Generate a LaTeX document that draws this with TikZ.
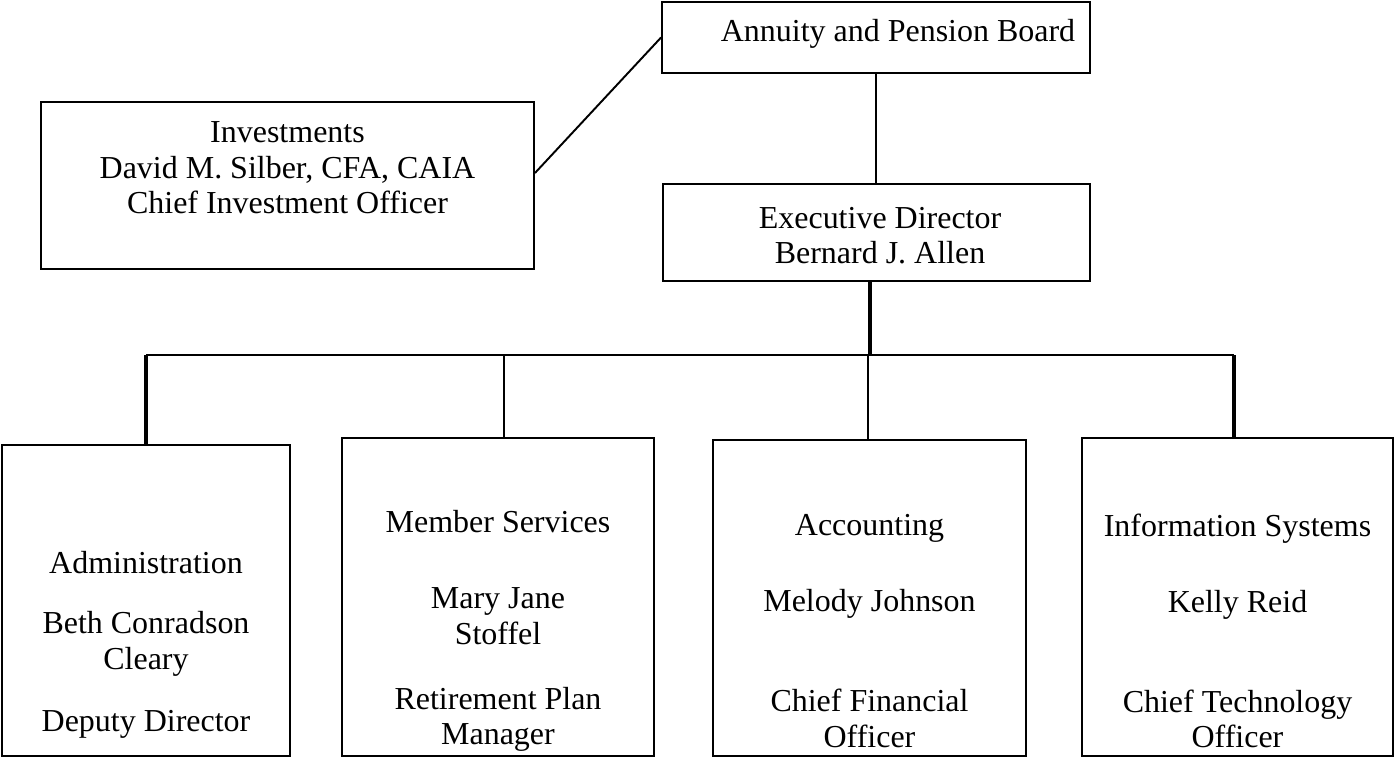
\documentclass[tikz,border=0pt]{standalone}
\usepackage{fontspec}
\setmainfont{Liberation Serif}
\tikzset{
  box/.style={draw, line width=1.1pt, inner sep=0pt},
  txt/.style={align=center, inner sep=0pt, font=\fontsize{18.2}{20.3}\selectfont},
  thin/.style={line width=1.1pt},
  bold/.style={line width=2pt},
}
\begin{document}
\begin{tikzpicture}[x=0.02cm,y=-0.02cm]
	\useasboundingbox (0,0) rectangle (1395,758);
	% top
	\node[box,minimum width=428*0.02cm,minimum height=71*0.02cm] (board) at (876,37.5) {};
	\node[txt] (boardtxt) at (898,34) {Annuity and Pension Board};
	\node[box,minimum width=427*0.02cm,minimum height=97*0.02cm] (exec) at (876.5,232.5) {};
	\node[txt] (exectxt) at (880,235.5) {Executive Director\\Bernard J. Allen};
	\node[box,minimum width=493*0.02cm,minimum height=167*0.02cm] (inv) at (287.5,185.5) {};
	\node[txt] (invtxt) at (287.5,168) {Investments\\David M. Silber, CFA, CAIA\\Chief Investment Officer};
	% departments
	\node[box,minimum width=288*0.02cm,minimum height=311*0.02cm] (admin) at (146,600.5) {};
	\node[box,minimum width=312*0.02cm,minimum height=318*0.02cm] (member) at (498,597) {};
	\node[box,minimum width=313*0.02cm,minimum height=316*0.02cm] (acct) at (869.5,598) {};
	\node[box,minimum width=311*0.02cm,minimum height=318*0.02cm] (infosys) at (1237.5,597) {};
	\node[txt] (admintxt) at (146,645) {Administration\\[14pt]Beth Conradson\\Cleary\\[15pt]Deputy Director};
	\node[txt] (membertxt) at (498,631) {Member Services\\[23pt]Mary Jane\\Stoffel\\[16.5pt]Retirement Plan\\Manager};
	\node[txt] (accttxt) at (869.5,631) {Accounting\\[23pt]Melody Johnson\\[36.5pt]Chief Financial\\Officer};
	\node[txt] (infosystxt) at (1237.5,631) {Information Systems\\[23pt]Kelly Reid\\[36.5pt]Chief Technology\\Officer};
	% connectors
	\coordinate (dg) at (0,173);
	\coordinate (bar) at (870,355);
	\draw[thin] (board.south) -- (exec.north -| board.south);
	\draw[thin] (inv.east |- dg) -- (board.west);
	\draw[bold] (exec.south -| bar) -- (bar);
	\draw[line width=1.6pt] (admin.north |- bar) -- (1234,355);
	\draw[bold] (admin.north |- bar) -- (admin.north);
	\draw[thin] (504,355) -- (member.north -| 504,0);
	\draw[thin] (868,355) -- (acct.north -| 868,0);
	\draw[bold] (1234,355) -- (infosys.north -| 1234,0);
\end{tikzpicture}
\end{document}
